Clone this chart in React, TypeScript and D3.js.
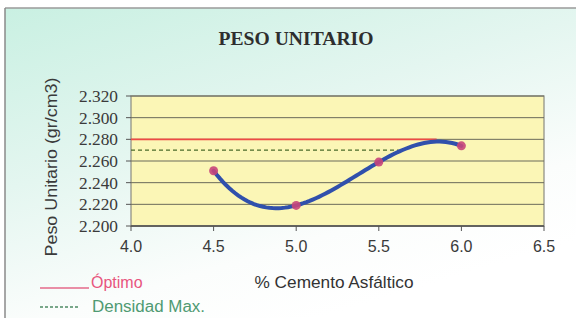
import React from "react";
import * as d3 from "d3";

// Asphalt content (%) and measured unit weight (gr/cm3)
const cementoPct = [4.5, 5.0, 5.5, 6.0];
const pesoUnitario = [2.251, 2.219, 2.259, 2.274];

const xTicks = [4.0, 4.5, 5.0, 5.5, 6.0, 6.5];
const yTicks = [2.2, 2.22, 2.24, 2.26, 2.28, 2.3, 2.32];

// Reference lines: value and the asphalt content where each one stops
const optimoValor = 2.28;
const optimoHasta = 5.85;
const densidadMaxValor = 2.27;
const densidadMaxHasta = 5.62;

const W = 576;
const H = 324;
const plot = { left: 131, right: 544, top: 96, bottom: 226 };

// Third-order polynomial through the measured points (Lagrange form)
function cubic(x: number): number {
  let s = 0;
  for (let i = 0; i < cementoPct.length; i++) {
    let term = pesoUnitario[i];
    for (let j = 0; j < cementoPct.length; j++) {
      if (j !== i) term *= (x - cementoPct[j]) / (cementoPct[i] - cementoPct[j]);
    }
    s += term;
  }
  return s;
}

export default function App() {
  const x = d3.scaleLinear().domain([4.0, 6.5]).range([plot.left, plot.right]);
  const y = d3.scaleLinear().domain([2.2, 2.32]).range([plot.bottom, plot.top]);

  const x0 = cementoPct[0];
  const x1 = cementoPct[cementoPct.length - 1];
  const samples = d3.range(0, 81).map((i) => x0 + ((x1 - x0) * i) / 80);
  const line = d3
    .line<number>()
    .x((d) => x(d))
    .y((d) => y(cubic(d)))
    .curve(d3.curveLinear);

  const sans = "'Liberation Sans', Arial, sans-serif";
  const serif = "'Liberation Serif', 'Times New Roman', serif";

  return (
    <svg
      width={W}
      height={H}
      style={{ position: "absolute", left: 0, top: 0, display: "block" }}
    >
      <defs>
        <linearGradient id="fondo" x1="0" y1="0" x2="0.55" y2="1">
          <stop offset="0" stopColor="#c9f0e2" />
          <stop offset="0.45" stopColor="#e4f6f0" />
          <stop offset="0.8" stopColor="#fbfdfc" />
          <stop offset="1" stopColor="#ffffff" />
        </linearGradient>
      </defs>
      <rect x={0} y={0} width={W} height={H} fill="#ffffff" />
      <rect x={5} y={8} width={W - 5} height={310} fill="url(#fondo)" />
      <line x1={5} y1={8} x2={W} y2={8} stroke="#9a9a9a" strokeWidth={1.5} />
      <line x1={5} y1={8} x2={5} y2={318} stroke="#8a8a8a" strokeWidth={1.5} />

      <text
        x={296}
        y={45}
        textAnchor="middle"
        fontFamily={serif}
        fontWeight="bold"
        fontSize={19}
        textLength={155}
        lengthAdjust="spacingAndGlyphs"
        fill="#2e2e2e"
      >
        PESO UNITARIO
      </text>

      {/* plot area */}
      <rect
        x={plot.left}
        y={plot.top}
        width={plot.right - plot.left}
        height={plot.bottom - plot.top}
        fill="#fbf6b6"
        stroke="#8a8a80"
        strokeWidth={1.2}
      />
      {yTicks.map((t) => (
        <g key={t}>
          <line
            x1={plot.left}
            x2={plot.right}
            y1={y(t)}
            y2={y(t)}
            stroke="#6a6a5a"
            strokeWidth={1}
          />
          <line x1={plot.left - 5} x2={plot.left} y1={y(t)} y2={y(t)} stroke="#555" />
          <text
            x={plot.left - 13}
            y={y(t) + 6}
            textAnchor="end"
            fontFamily={serif}
            fontSize={17}
            textLength={39}
            lengthAdjust="spacingAndGlyphs"
            fill="#3a3a3a"
          >
            {d3.format(".3f")(t)}
          </text>
        </g>
      ))}
      <line
        x1={plot.left}
        x2={plot.right}
        y1={plot.bottom}
        y2={plot.bottom}
        stroke="#555"
        strokeWidth={1.3}
      />
      {xTicks.map((t) => (
        <g key={t}>
          <line x1={x(t)} x2={x(t)} y1={plot.bottom} y2={plot.bottom + 5} stroke="#555" />
          <text
            x={x(t)}
            y={plot.bottom + 26}
            textAnchor="middle"
            fontFamily={sans}
            fontSize={16}
            fill="#3a3a3a"
          >
            {d3.format(".1f")(t)}
          </text>
        </g>
      ))}

      {/* reference lines */}
      <line
        x1={x(4.0)}
        x2={x(optimoHasta)}
        y1={y(optimoValor)}
        y2={y(optimoValor)}
        stroke="#ee4a44"
        strokeWidth={1.6}
      />
      <line
        x1={x(4.0)}
        x2={x(densidadMaxHasta)}
        y1={y(densidadMaxValor)}
        y2={y(densidadMaxValor)}
        stroke="#4a6a2a"
        strokeWidth={1.4}
        strokeDasharray="4,3"
      />

      {/* fitted curve and measured points */}
      <path
        d={line(samples) || ""}
        fill="none"
        stroke="#3050ac"
        strokeWidth={4}
        strokeLinecap="round"
      />
      {cementoPct.map((c, i) => (
        <circle key={c} cx={x(c)} cy={y(pesoUnitario[i])} r={4.5} fill="#c8457a" opacity={0.9} />
      ))}

      {/* axis titles */}
      <text
        transform={`translate(57,167) rotate(-90)`}
        textAnchor="middle"
        fontFamily={sans}
        fontSize={17}
        textLength={179}
        lengthAdjust="spacingAndGlyphs"
        fill="#3a3a3a"
      >
        Peso Unitario (gr/cm3)
      </text>
      <text
        x={334}
        y={288}
        textAnchor="middle"
        fontFamily={sans}
        fontSize={17}
        textLength={159}
        lengthAdjust="spacingAndGlyphs"
        fill="#333"
      >
        % Cemento Asfáltico
      </text>

      {/* legend */}
      <line x1={40} x2={89} y1={288} y2={288} stroke="#e56a8a" strokeWidth={1.4} />
      <text x={91} y={288} fontFamily={sans} fontSize={16} fill="#e8557e">
        Óptimo
      </text>
      <line
        x1={40}
        x2={79}
        y1={307}
        y2={307}
        stroke="#4e8a64"
        strokeWidth={1.3}
        strokeDasharray="3,2"
      />
      <text
        x={92}
        y={312}
        fontFamily={sans}
        fontSize={16}
        textLength={113}
        lengthAdjust="spacingAndGlyphs"
        fill="#4f9a72"
      >
        Densidad Max.
      </text>
    </svg>
  );
}
